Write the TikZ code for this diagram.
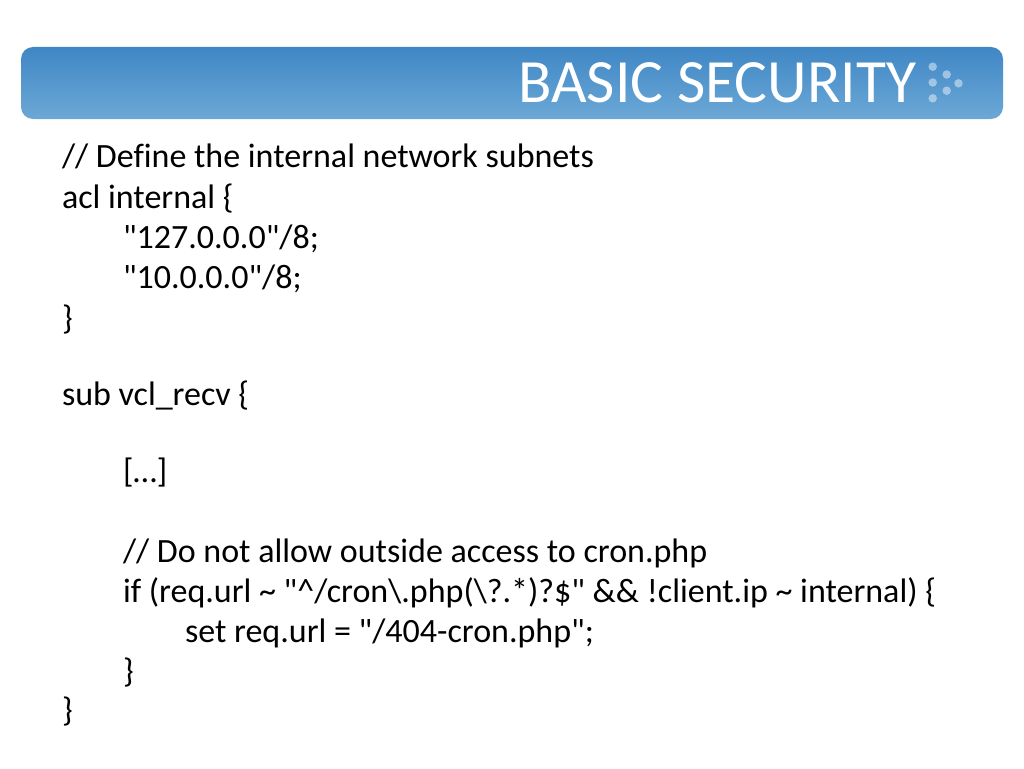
\documentclass[tikz,border=0pt]{standalone}
\usepackage{fontspec}
\setmainfont{Carlito}[Ligatures=NoCommon]
\usetikzlibrary{positioning}
\definecolor{bartop}{HTML}{3F87C5}
\definecolor{barbot}{HTML}{6CA8D6}
\newcommand{\qt}{\textquotedbl}
\begin{document}
\begin{tikzpicture}[x=1pt,y=-1pt,inner sep=0pt,outer sep=0pt]
            \useasboundingbox (0,0) rectangle (1024,768);
            \tikzset{codeline/.style={anchor=base west,font=\fontsize{34}{40}\selectfont}}
            \tikzset{bardot/.style={circle,fill=white,fill opacity=0.45,minimum size=8.5pt}}
            % header bar
            \shade[top color=bartop,bottom color=barbot,rounded corners=12pt] (21,47) rectangle (1003,119);
            \node[anchor=base east,text=white,font=\fontsize{61.5}{70}\selectfont] (title) at (916,102) {BASIC SECURITY};
            \node[bardot] (d1) at (932.7,66.7) {};
            \node[bardot] (d2) at (946.7,74.5) {};
            \node[bardot] (d3) at (932.7,82.5) {};
            \node[bardot] (d4) at (958.5,83.3) {};
            \node[bardot] (d5) at (946.7,90.7) {};
            \node[bardot] (d6) at (932.7,98.3) {};
            % code
            \node[codeline] (l1)  at (62,167)  {// Define the internal network subnets};
            \node[codeline] (l2)  at (62,208)  {acl internal \{};
            \node[codeline] (l3)  at (123,248) {\qt127.0.0.0\qt/8;};
            \node[codeline] (l4)  at (123,288) {\qt10.0.0.0\qt/8;};
            \node[codeline] (l5)  at (62,329)  {\}};
            \node[codeline] (l6)  at (62,405)  {sub vcl\_recv \{};
            \node[codeline] (l7)  at (123,482) {[…]};
            \node[codeline] (l8)  at (123,562) {// Do not allow outside access to cron.php};
            \node[codeline] (l9)  at (123,602) {if (req.url \textasciitilde{} \qt\textasciicircum/cron\textbackslash.php(\textbackslash?.*)?\$\qt{} \&\& !client.ip \textasciitilde{} internal) \{};
            \node[codeline] (l10) at (185,642) {set req.url = \qt/404-cron.php\qt;};
            \node[codeline] (l11) at (123,682) {\}};
            \node[codeline] (l12) at (62,721)  {\}};
        \end{tikzpicture}
\end{document}
